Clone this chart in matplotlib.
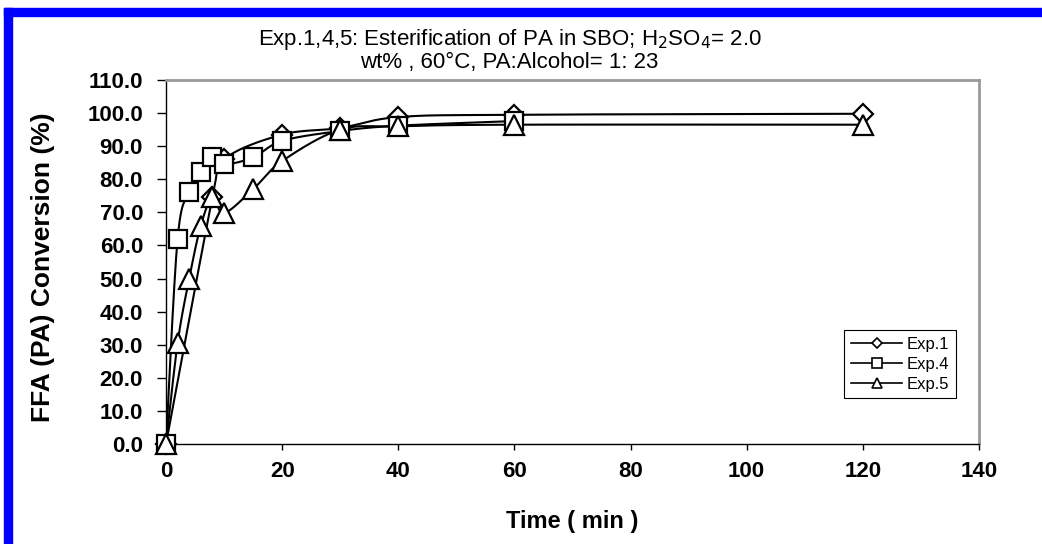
import numpy as np
import matplotlib
matplotlib.use("Agg")
import matplotlib.pyplot as plt
from matplotlib.lines import Line2D
from matplotlib.patches import Rectangle

plt.rcParams['font.family'] = ['Liberation Sans', 'DejaVu Sans']

# data
exp1_t = [0, 8, 10, 20, 30, 40, 60, 120]
exp1_y = [0.0, 74.5, 86.0, 93.5, 95.5, 98.8, 99.5, 99.8]

exp4_t = [0, 2, 4, 6, 8, 10, 15, 20, 30, 40, 60]
exp4_y = [0.0, 62.0, 76.2, 82.3, 86.6, 84.5, 86.6, 91.6, 94.6, 96.2, 97.6]

exp5_t = [0, 2, 4, 6, 8, 10, 15, 20, 30, 40, 60, 120]
exp5_y = [0.0, 30.5, 50.0, 66.0, 74.5, 69.8, 77.0, 85.5, 95.0, 96.0, 96.5, 96.5]

x_ticks = [0, 20, 40, 60, 80, 100, 120, 140]
y_ticks = [0, 10, 20, 30, 40, 50, 60, 70, 80, 90, 100, 110]

title = ("Exp.1,4,5: Esterification of PA in SBO; H$_2$SO$_4$= 2.0\n"
         "wt% , 60\u00b0C, PA:Alcohol= 1: 23")


def smooth_line(ax, x, y, n=40):
    """Excel-like smoothed line: Catmull-Rom Bezier computed in screen space."""
    pts = ax.transData.transform(np.column_stack([x, y]))
    out = [pts[0]]
    for i in range(len(pts) - 1):
        p0 = pts[i - 1] if i > 0 else pts[i]
        p1 = pts[i]
        p2 = pts[i + 1]
        p3 = pts[i + 2] if i + 2 < len(pts) else pts[i + 1]
        c1 = p1 + (p2 - p0) / 6.0
        c2 = p2 - (p3 - p1) / 6.0
        t = np.linspace(0, 1, n)[1:, None]
        seg = ((1 - t) ** 3 * p1 + 3 * (1 - t) ** 2 * t * c1
               + 3 * (1 - t) * t ** 2 * c2 + t ** 3 * p2)
        out.extend(seg)
    data = ax.transData.inverted().transform(np.array(out))
    return data[:, 0], data[:, 1]


fig = plt.figure(figsize=(10.42, 5.44), dpi=100)
ax = fig.add_axes([0.1593, 0.1838, 0.7802, 0.6691])

ax.set_xlim(0, 140)
ax.set_ylim(0, 110)

series = [
    ("Exp.1", exp1_t, exp1_y, 'D', 10),
    ("Exp.4", exp4_t, exp4_y, 's', 13),
    ("Exp.5", exp5_t, exp5_y, '^', 14),
]

for name, t, y, mk, ms in series:
    sx, sy = smooth_line(ax, t, y)
    ax.plot(sx, sy, color='black', lw=1.5, zorder=2)

for name, t, y, mk, ms in series:
    ax.plot(t, y, ls='none', marker=mk, ms=ms, mfc='white', mec='black',
            mew=1.6, zorder=3, clip_on=False)

ax.set_xticks(x_ticks)
ax.set_yticks(y_ticks)
ax.set_yticklabels([f"{v:.1f}" for v in y_ticks])
ax.tick_params(axis='y', direction='out', length=6.5, width=1, color='black',
               labelsize=16, pad=10)
ax.tick_params(axis='x', direction='out', length=4.5, width=1, color='black',
               labelsize=16, pad=8)
for lab in ax.get_xticklabels() + ax.get_yticklabels():
    lab.set_fontweight('bold')

for side in ('top', 'right'):
    ax.spines[side].set_color('#999999')
    ax.spines[side].set_linewidth(2)
for side in ('left', 'bottom'):
    ax.spines[side].set_color('black')
    ax.spines[side].set_linewidth(1)

ax.set_xlabel("Time ( min )", fontsize=17, fontweight='bold', va='center')
ax.xaxis.set_label_coords(0.4994, -0.214)
ax.set_ylabel("FFA (PA) Conversion (%)", fontsize=19, fontweight='bold',
              va='center')
ax.yaxis.set_label_coords(-0.151, 0.486)
fig.text(0.489, 0.908, title, ha='center', va='center', fontsize=16,
         linespacing=0.95)

handles = [Line2D([], [], color='black', lw=1.2, marker=mk, ms=ms * 0.5,
                  mfc='white', mec='black', mew=1.2)
           for name, t, y, mk, ms in series]
leg = ax.legend(handles, [s[0] for s in series], loc='upper left',
                bbox_to_anchor=(0.834, 0.313), fontsize=12, frameon=True,
                fancybox=False, edgecolor='black', framealpha=1,
                handlelength=3.1, handletextpad=0.25, borderpad=0.4,
                labelspacing=0.3, borderaxespad=0)
leg.get_frame().set_linewidth(0.8)

# blue frame around the picture
fig.patches.append(Rectangle((4 / 1042, 1 - 16 / 544), 1 - 4 / 1042, 8 / 544,
                             transform=fig.transFigure, color='#0000ff'))
fig.patches.append(Rectangle((4 / 1042, 0), 8 / 1042, 1 - 8 / 544,
                             transform=fig.transFigure, color='#0000ff'))

fig.savefig("out.png", dpi=100)
